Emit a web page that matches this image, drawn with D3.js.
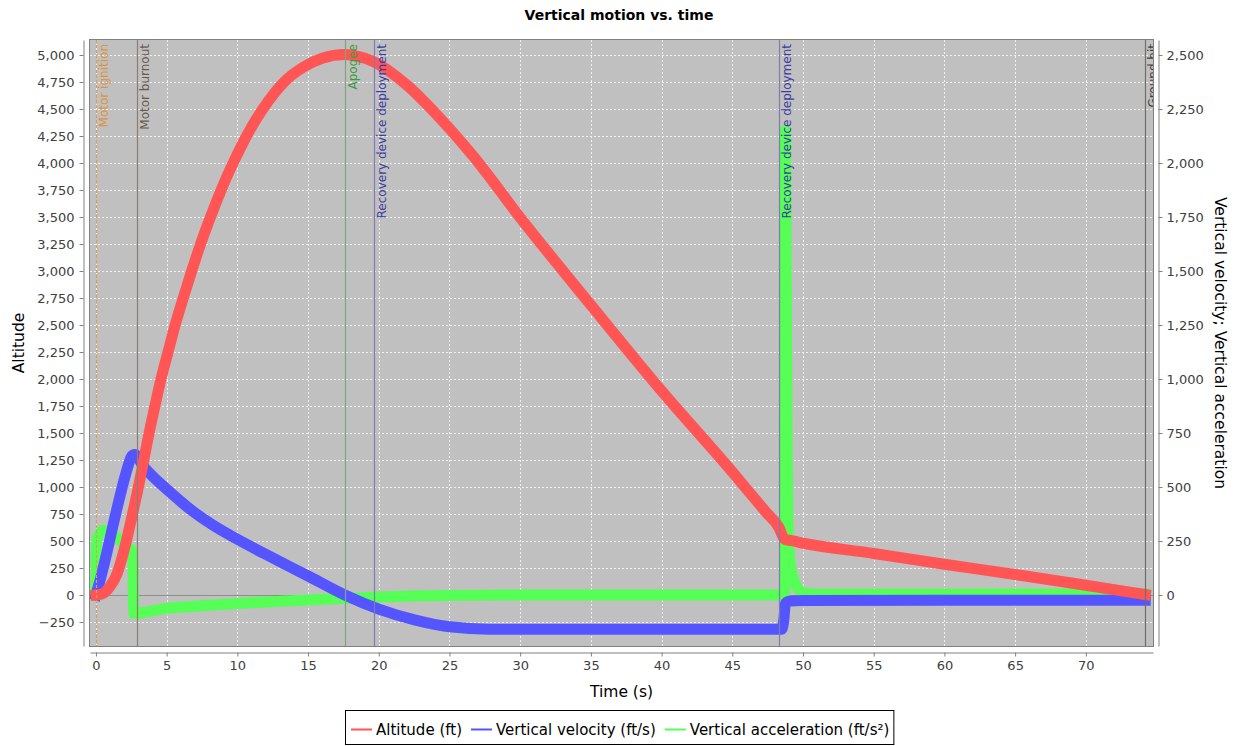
<!DOCTYPE html>
<html>
<head>
<meta charset="utf-8">
<script src="https://cdn.jsdelivr.net/npm/d3@7"></script>
<style>
    body { margin: 0; background: #ffffff; }
    svg text { font-family: "DejaVu Sans", sans-serif; }
</style>
</head>
<body>
<svg id="chart" width="1238" height="746"></svg>
<script>
// Values (time in s).
var altTime  = [0, 0.5, 1.0, 1.5, 2.0, 2.5, 3.0, 3.4, 3.76, 4.17, 4.6, 5.1, 5.6, 6.17, 6.77, 7.4, 8.1, 8.85, 9.7, 10.65, 11.8, 13.3, 14.7, 16.0, 17.6, 19.6, 22.0, 24.3, 26.7, 30, 35, 40, 45, 46.5, 47.4, 48.3, 48.7, 49.2, 50, 55, 60, 65, 70, 74.2];
var altValue = [0, 15, 80, 200, 420, 700, 1000, 1260, 1500, 1750, 2000, 2250, 2500, 2750, 3000, 3250, 3500, 3750, 4000, 4250, 4500, 4750, 4890, 4970, 5005, 4940, 4720, 4420, 4060, 3495, 2685, 1890, 1140, 905, 765, 625, 515, 503, 480, 385, 285, 190, 90, 5];

var velTime  = [0, 0.3, 0.75, 1.2, 1.67, 2.15, 2.55, 2.75, 3.3, 4.0, 5.0, 6.7, 8.3, 10, 12.5, 15, 17.6, 20, 22.6, 25, 27.8, 30, 48.5, 48.65, 48.75, 49.1, 50, 60, 74.2];
var velValue = [0, 70, 190, 320, 450, 570, 645, 650, 600, 550, 490, 395, 322, 258, 172, 88, 0, -65, -116, -147, -158, -158, -158, -110, -40, -28, -25, -24, -24];

var accTime  = [0, 0.05, 0.5, 1.0, 1.5, 2.0, 2.4, 2.6, 2.68, 3.2, 5, 7.5, 10, 15, 20, 25, 30, 48.72, 48.76, 48.82, 48.87, 48.93, 49.05, 49.3, 49.6, 50, 51, 74.2];
var accValue = [0, 250, 300, 290, 265, 235, 215, 205, -85, -82, -62, -50, -39, -23, -9, -2, 0, 0, 2150, 1400, 700, 350, 170, 80, 35, 10, 5, 5];

var eventNames  = ['Motor ignition', 'Motor burnout', 'Apogee', 'Recovery device deployment', 'Recovery device deployment', 'Ground hit'];
var eventTimes  = [0, 2.92, 17.6, 19.66, 48.3, 74.2];
var eventLine   = ['#e49a50', '#8c7c72', '#7fa47f', '#7c7cae', '#7c7cae', '#6e6e6e'];
var eventText   = ['#dc9440', '#6a5a50', '#3c9c3c', '#3c3ca0', '#3c3ca0', '#404040'];

var xTicks     = [0, 5, 10, 15, 20, 25, 30, 35, 40, 45, 50, 55, 60, 65, 70];
var leftTicks  = [-250, 0, 250, 500, 750, 1000, 1250, 1500, 1750, 2000, 2250, 2500, 2750, 3000, 3250, 3500, 3750, 4000, 4250, 4500, 4750, 5000];
var rightTicks = [0, 250, 500, 750, 1000, 1250, 1500, 1750, 2000, 2250, 2500];

var seriesNames  = ['Altitude (ft)', 'Vertical velocity (ft/s)', 'Vertical acceleration (ft/s\u00b2)'];
var seriesColors = ['#ff5555', '#5555ff', '#55ff55'];

// Plot area
var plot = { left: 90, right: 1153, top: 40, bottom: 646 };

var svg = d3.select( '#chart' );

var x = d3.scaleLinear()
    .domain( [-0.42, 74.75] )
    .range( [plot.left, plot.right] );

var yLeft = d3.scaleLinear()
    .domain( [-472, 5139] )
    .range( [plot.bottom, plot.top] );

var yRight = d3.scaleLinear()
    .domain( [-236, 2569.5] )
    .range( [plot.bottom, plot.top] );

var fmt = d3.format( ',' );

// Title
svg.append( 'text' )
    .attr( 'x', 619 )
    .attr( 'y', 20 )
    .attr( 'text-anchor', 'middle' )
    .attr( 'font-size', 14 )
    .attr( 'font-weight', 'bold' )
    .text( 'Vertical motion vs. time' );

// Plot background
svg.append( 'rect' )
    .attr( 'x', plot.left )
    .attr( 'y', plot.top )
    .attr( 'width', plot.right - plot.left )
    .attr( 'height', plot.bottom - plot.top )
    .attr( 'fill', '#c0c0c0' );

svg.append( 'clipPath' )
    .attr( 'id', 'plotClip' )
    .append( 'rect' )
    .attr( 'x', plot.left )
    .attr( 'y', plot.top )
    .attr( 'width', plot.right - plot.left )
    .attr( 'height', plot.bottom - plot.top );

// Grid
var grid = svg.append( 'g' ).attr( 'clip-path', 'url(#plotClip)' );
grid.selectAll( 'line.vg' )
    .data( xTicks )
    .join( 'line' )
    .attr( 'class', 'vg' )
    .attr( 'x1', d => Math.round( x( d ) ) + 0.5 )
    .attr( 'x2', d => Math.round( x( d ) ) + 0.5 )
    .attr( 'y1', plot.top )
    .attr( 'y2', plot.bottom )
    .attr( 'stroke', '#f0f0f0' )
    .attr( 'stroke-dasharray', '2,2' );
grid.selectAll( 'line.hg' )
    .data( leftTicks )
    .join( 'line' )
    .attr( 'class', 'hg' )
    .attr( 'x1', plot.left )
    .attr( 'x2', plot.right )
    .attr( 'y1', d => Math.round( yLeft( d ) ) + 0.5 )
    .attr( 'y2', d => Math.round( yLeft( d ) ) + 0.5 )
    .attr( 'stroke', '#f0f0f0' )
    .attr( 'stroke-dasharray', '2,2' );

// Zero baseline
grid.append( 'line' )
    .attr( 'x1', plot.left )
    .attr( 'x2', plot.right )
    .attr( 'y1', Math.round( yLeft( 0 ) ) + 0.5 )
    .attr( 'y2', Math.round( yLeft( 0 ) ) + 0.5 )
    .attr( 'stroke', '#8e8e8e' );

// Event markers
var events = eventNames.map( ( n, i ) => ( { name: n, t: eventTimes[i], line: eventLine[i], text: eventText[i] } ) );

var evG = svg.append( 'g' ).attr( 'clip-path', 'url(#plotClip)' );
evG.selectAll( 'line' )
    .data( events )
    .join( 'line' )
    .attr( 'x1', d => Math.round( x( d.t ) ) + 0.5 )
    .attr( 'x2', d => Math.round( x( d.t ) ) + 0.5 )
    .attr( 'y1', plot.top )
    .attr( 'y2', plot.bottom )
    .attr( 'stroke', d => d.line )
    .attr( 'stroke-width', 1.2 )
    .attr( 'stroke-dasharray', ( d, i ) => i === 0 ? '3,2' : null );

// Series: green under blue under red
var line = d3.line()
    .curve( d3.curveMonotoneX )
    .x( d => x( d[0] ) );

function series( times, values, scale, color ) {
    var pts = times.map( ( t, i ) => [t, values[i]] );
    grid.append( 'path' )
        .datum( pts )
        .attr( 'd', line.y( d => scale( d[1] ) ) )
        .attr( 'fill', 'none' )
        .attr( 'stroke', color )
        .attr( 'stroke-width', 11 )
        .attr( 'stroke-linejoin', 'round' )
        .attr( 'stroke-linecap', 'square' );
}
series( accTime, accValue, yRight, seriesColors[2] );
series( velTime, velValue, yRight, seriesColors[1] );
series( altTime, altValue, yLeft, seriesColors[0] );

// Event labels (over the series)
var evT = svg.append( 'g' ).attr( 'clip-path', 'url(#plotClip)' );
evT.selectAll( 'text' )
    .data( events )
    .join( 'text' )
    .attr( 'transform', d => 'translate(' + ( Math.round( x( d.t ) ) + 12 ) + ',' + 44 + ') rotate(-90)' )
    .attr( 'text-anchor', 'end' )
    .attr( 'font-size', 12 )
    .attr( 'fill', d => d.text )
    .text( d => d.name );

// Plot outline
svg.append( 'rect' )
    .attr( 'x', plot.left - 0.5 )
    .attr( 'y', plot.top - 0.5 )
    .attr( 'width', plot.right - plot.left + 1 )
    .attr( 'height', plot.bottom - plot.top + 1 )
    .attr( 'fill', 'none' )
    .attr( 'stroke', '#808080' );

// Axes
function styleAxis( g ) {
    g.selectAll( 'path' ).attr( 'stroke', '#808080' );
    g.selectAll( 'line' ).attr( 'stroke', '#808080' );
    g.selectAll( 'text' )
        .attr( 'font-size', 13 )
        .attr( 'font-family', '"DejaVu Sans", sans-serif' )
        .attr( 'fill', '#404040' );
}

svg.append( 'g' )
    .attr( 'transform', 'translate(0,' + ( plot.bottom + 6.5 ) + ')' )
    .call( d3.axisBottom( x ).tickValues( xTicks ).tickSize( 4 ).tickSizeOuter( 0 ).tickPadding( 4 ) )
    .call( styleAxis );

svg.append( 'g' )
    .attr( 'transform', 'translate(' + ( plot.left - 6.5 ) + ',0)' )
    .call( d3.axisLeft( yLeft ).tickValues( leftTicks ).tickFormat( fmt ).tickSize( 4 ).tickSizeOuter( 0 ).tickPadding( 5 ) )
    .call( styleAxis );

svg.append( 'g' )
    .attr( 'transform', 'translate(' + ( plot.right + 5.5 ) + ',0)' )
    .call( d3.axisRight( yRight ).tickValues( rightTicks ).tickFormat( fmt ).tickSize( 4 ).tickSizeOuter( 0 ).tickPadding( 4 ) )
    .call( styleAxis );

// Axis titles
svg.append( 'text' )
    .attr( 'x', ( plot.left + plot.right ) / 2 )
    .attr( 'y', 697 )
    .attr( 'text-anchor', 'middle' )
    .attr( 'font-size', 15.5 )
    .text( 'Time (s)' );

svg.append( 'text' )
    .attr( 'transform', 'translate(24,' + ( plot.top + plot.bottom ) / 2 + ') rotate(-90)' )
    .attr( 'text-anchor', 'middle' )
    .attr( 'font-size', 15.5 )
    .text( 'Altitude' );

svg.append( 'text' )
    .attr( 'transform', 'translate(1215,' + ( plot.top + plot.bottom ) / 2 + ') rotate(90)' )
    .attr( 'text-anchor', 'middle' )
    .attr( 'font-size', 15.5 )
    .text( 'Vertical velocity; Vertical acceleration' );

// Legend
var legend = svg.append( 'g' );
var lx = 351;
seriesNames.forEach( function ( name, i ) {
    legend.append( 'line' )
        .attr( 'x1', lx )
        .attr( 'x2', lx + 21 )
        .attr( 'y1', 729.5 )
        .attr( 'y2', 729.5 )
        .attr( 'stroke', seriesColors[i] )
        .attr( 'stroke-width', 2 );
    var t = legend.append( 'text' )
        .attr( 'x', lx + 25 )
        .attr( 'y', 735 )
        .attr( 'font-size', 15 )
        .text( name );
    lx += 25 + t.node().getComputedTextLength() + 9;
} );
legend.insert( 'rect', ':first-child' )
    .attr( 'x', 345.5 )
    .attr( 'y', 710.5 )
    .attr( 'width', lx - 345 - 5 )
    .attr( 'height', 34 )
    .attr( 'fill', '#ffffff' )
    .attr( 'stroke', '#000000' );
</script>
</body>
</html>
